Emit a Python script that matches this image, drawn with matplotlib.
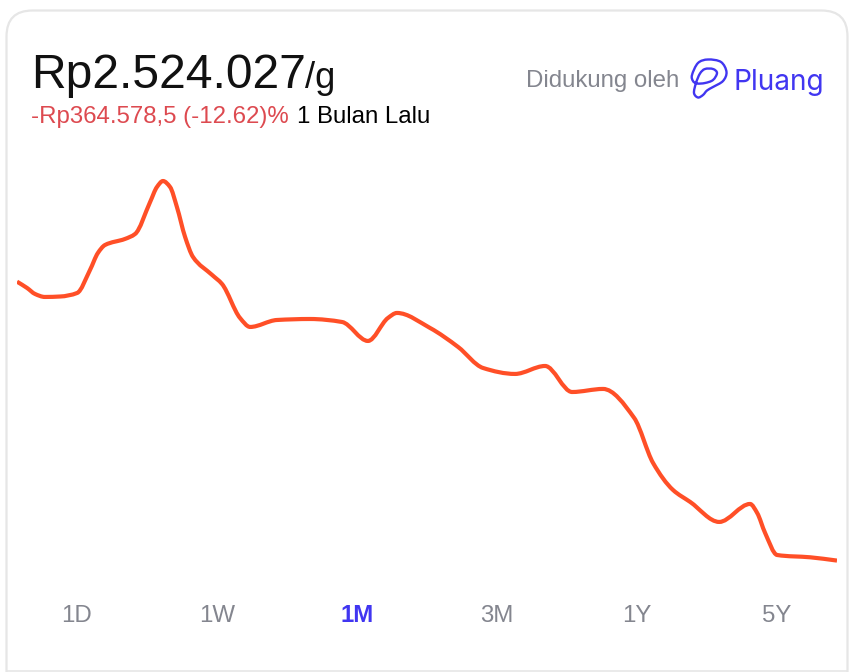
import numpy as np
import matplotlib

matplotlib.use("Agg")
import matplotlib.pyplot as plt
from matplotlib.patches import FancyBboxPatch, PathPatch
from matplotlib.path import Path

# day of the month, price in thousand Rp per gram
days = [0, .37, .66, 1.02, 1.58, 2.20, 2.67, 2.96, 3.22, 3.95, 4.32, 4.87, 5.12, 5.34, 5.60, 5.85,
        6.15, 6.44, 7.14, 7.50, 8.16, 8.53, 9.51, 10.72, 11.89, 12.84, 13.57, 13.90, 15.11, 16.14,
        17.05, 18.22, 19.32, 20.31, 21.44, 22.58, 23.27, 24.00, 24.63, 25.69, 26.82, 27.08, 27.37,
        27.81, 29.02, 30]
prices = [2889.0, 2880.7, 2872.9, 2869.0, 2869.6, 2874.2, 2904.2, 2926.5, 2936.9, 2944.8, 2951.3,
          2993.1, 3012.7, 3020.5, 3012.7, 2986.6, 2947.4, 2921.2, 2897.7, 2886.0, 2841.5, 2829.8,
          2838.9, 2840.2, 2836.3, 2811.5, 2841.5, 2848.1, 2828.5, 2803.6, 2776.2, 2768.4, 2778.8,
          2744.8, 2748.8, 2710.9, 2652.1, 2616.8, 2601.1, 2575.0, 2598.5, 2586.7, 2560.6, 2531.8,
          2528.8, 2524.5]
ranges = ["1D", "1W", "1M", "3M", "1Y", "5Y"]
active_range = "1M"

W, H = 854, 672
ORANGE = "#ff4f27"
BLUE = "#4136f1"
GRAY = "#84868f"
FONT = "Liberation Sans"

LOGO_PTS = [(692, 75), (698, 63), (708, 59.5), (721, 62), (726.5, 72), (723, 81), (713, 87),
            (707, 90.5), (703, 95), (698, 97.5), (694, 93), (696, 83), (700, 73.5), (705, 69),
            (713, 69), (717, 73), (713, 80), (705, 83), (697, 83.5), (693, 81), (692, 75)]


def monotone_path(x, y):
    # monotone spline like the web chart: flat at peaks, no overshoot
    x, y = np.asarray(x, float), np.asarray(y, float)
    h = np.diff(x)
    sec = np.diff(y) / h
    slope = np.zeros_like(x)
    slope[0], slope[-1] = sec[0], sec[-1]
    for i in range(1, len(x) - 1):
        if sec[i - 1] * sec[i] > 0:
            w1, w2 = 2 * h[i] + h[i - 1], h[i] + 2 * h[i - 1]
            slope[i] = (w1 + w2) / (w1 / sec[i - 1] + w2 / sec[i])
    verts, codes = [(x[0], y[0])], [Path.MOVETO]
    for i, step in enumerate(h):
        verts += [(x[i] + step / 3, y[i] + slope[i] * step / 3),
                  (x[i + 1] - step / 3, y[i + 1] - slope[i + 1] * step / 3),
                  (x[i + 1], y[i + 1])]
        codes += [Path.CURVE4] * 3
    return Path(verts, codes)


def loop_path(points):
    pts = np.array(points, float)
    tang = (np.roll(pts[:-1], -1, axis=0) - np.roll(pts[:-1], 1, axis=0)) / 6
    tang = np.vstack([tang, tang[:1]])
    verts, codes = [pts[0]], [Path.MOVETO]
    for i in range(len(pts) - 1):
        verts += [pts[i] + tang[i], pts[i + 1] - tang[i + 1], pts[i + 1]]
        codes += [Path.CURVE4] * 3
    return Path(verts, codes)


fig = plt.figure(figsize=(W / 100, H / 100), dpi=100)

# pixel overlay for the card, texts and logo
bg = fig.add_axes([0, 0, 1, 1])
bg.set(xlim=(0, W), ylim=(H, 0))
bg.axis("off")
# card runs off the bottom, only the top corners are round
bg.add_patch(FancyBboxPatch((6.5, 10.5), 841, 720, boxstyle="round,pad=0,rounding_size=26",
                            fc="white", ec="#e6e6e6", lw=1.6))
bg.plot([6, 848], [671, 671], color="#e6e6e6", lw=1.2, solid_capstyle="butt")

bg.text(31, 88, "Rp2.524.027", fontsize=34.56, color="#111111", family=FONT)
bg.text(305.5, 88, "/g", fontsize=26.2, color="#111111", family=FONT)
bg.text(31, 123, "-Rp364.578,5 (-12.62)%", fontsize=17.28, color="#dd4a50", family=FONT)
bg.text(297, 123, "1 Bulan Lalu", fontsize=17.28, color="black", family=FONT)
bg.text(526, 87, "Didukung oleh", fontsize=17.28, color=GRAY, family=FONT)
bg.text(733.5, 90, "Pluang", fontsize=20.2, color=BLUE, family="Inter")
bg.add_patch(PathPatch(loop_path(LOGO_PTS), fc="none", ec=BLUE, lw=1.7))

for i, label in enumerate(ranges):
    on = label == active_range
    bg.text(77 + i * 140, 613, label, ha="center", va="center_baseline", fontsize=17.28, family=FONT,
            color=BLUE if on else GRAY, fontweight="bold" if on else "normal")

ax = fig.add_axes([17 / W, 1 - 570 / H, 820 / W, 400 / H])
ax.set(xlim=(0, 30), ylim=(2512.2, 3034.9))
ax.axis("off")
ax.add_patch(PathPatch(monotone_path(days, prices), fc="none", ec=ORANGE, lw=3.0,
                       capstyle="butt", joinstyle="round"))

fig.savefig("out.png", dpi=100)
